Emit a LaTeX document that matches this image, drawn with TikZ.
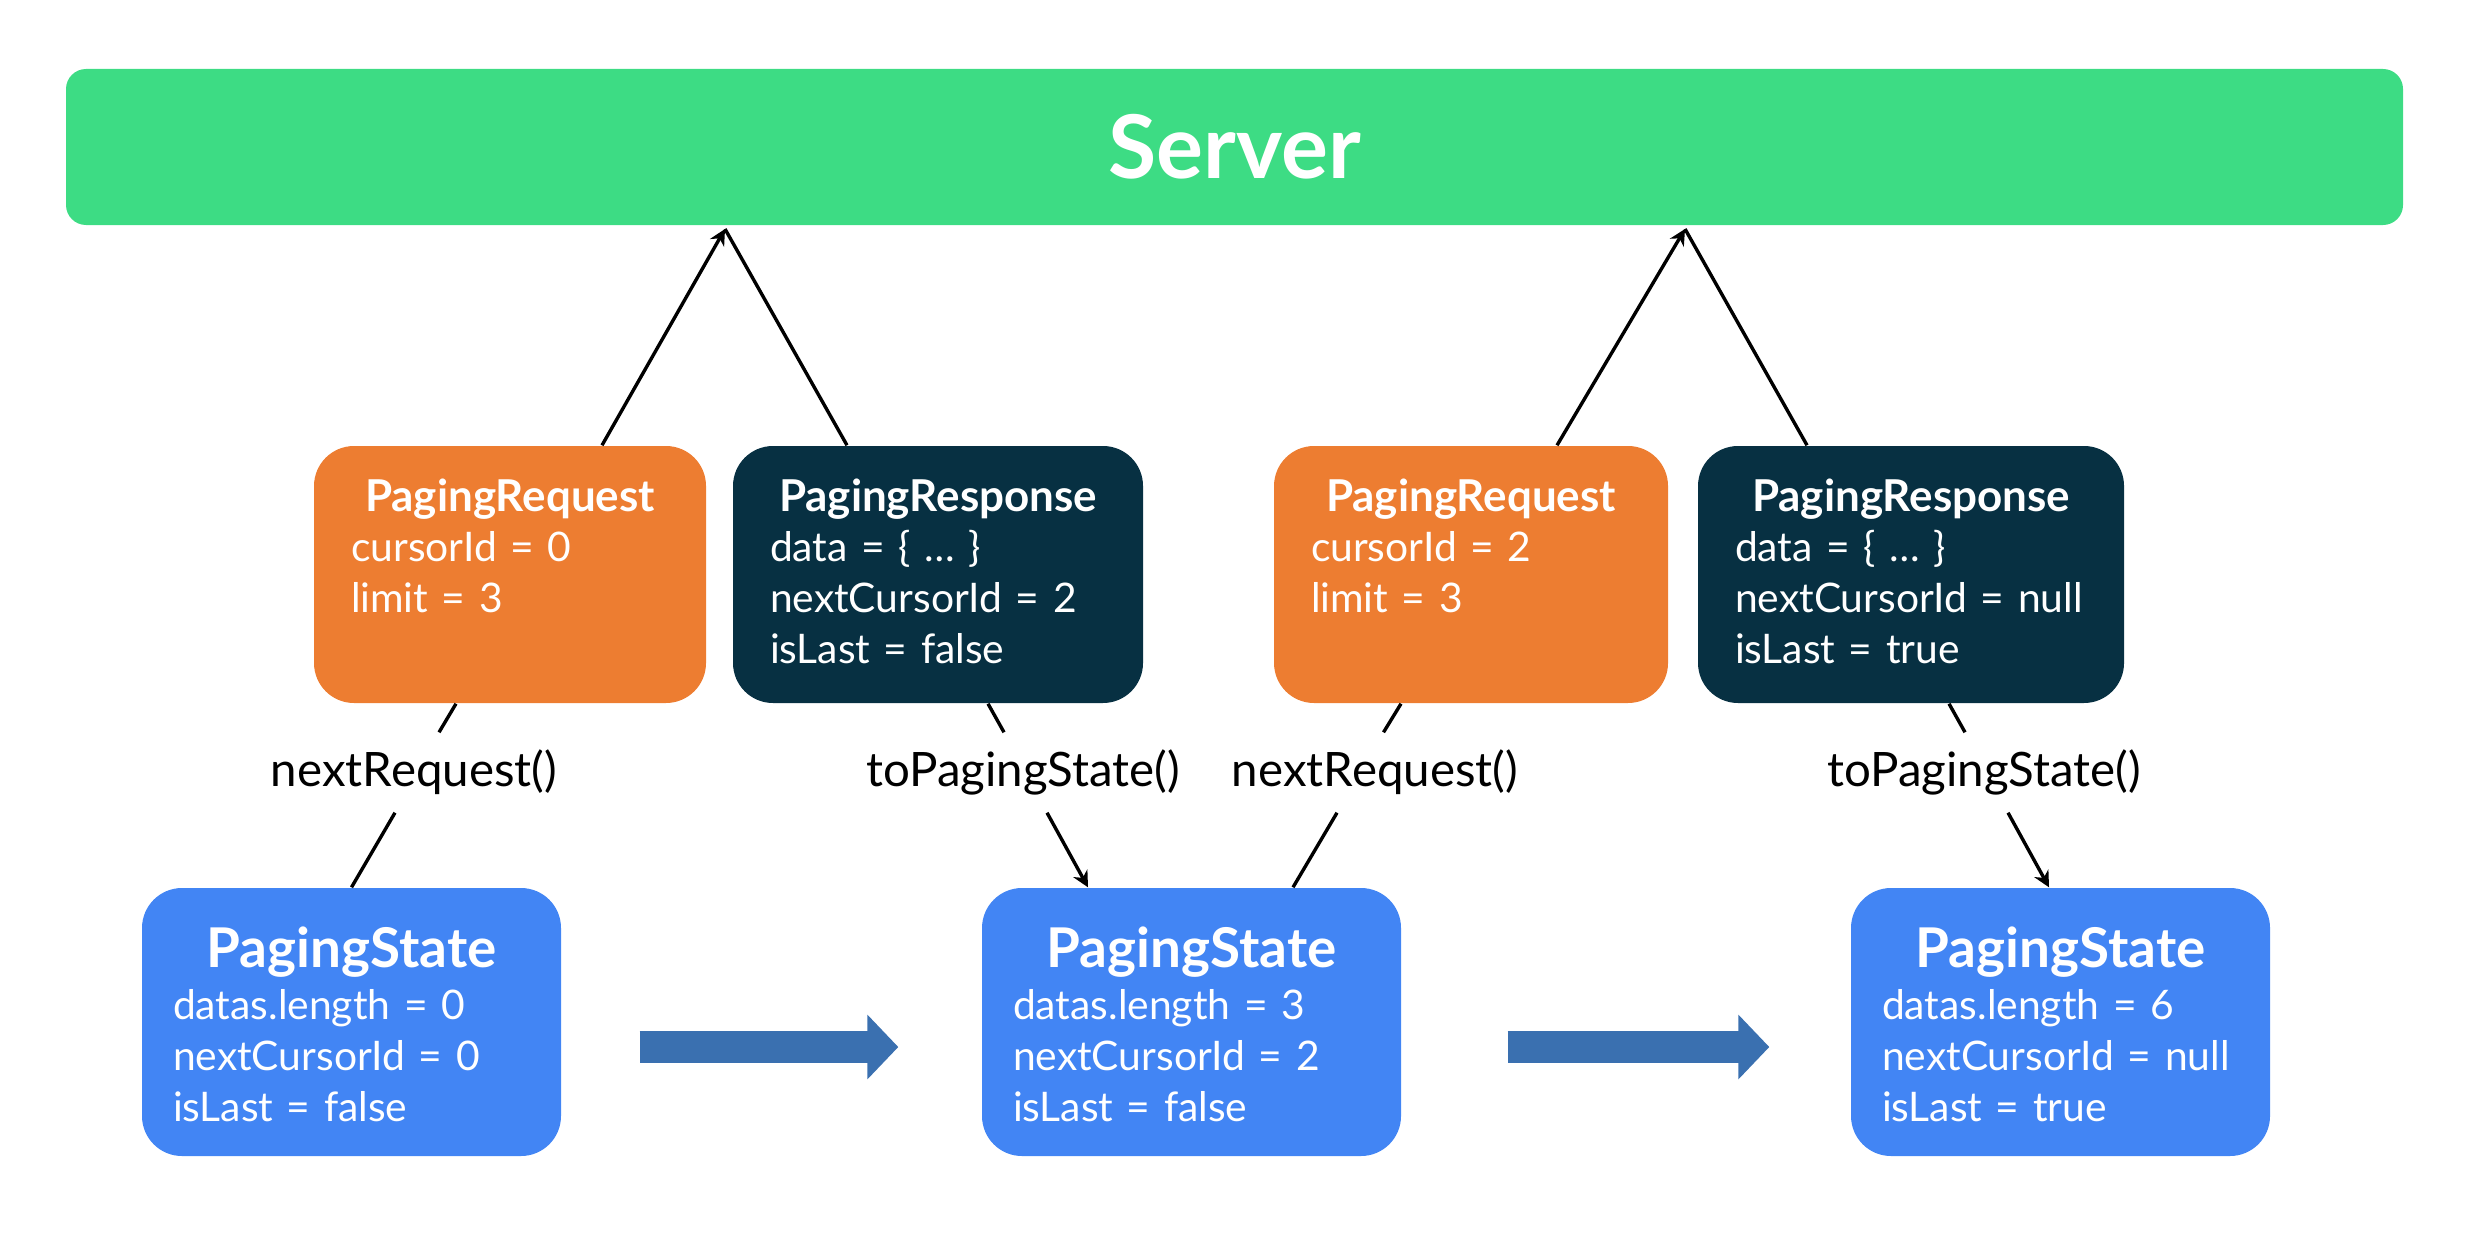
\documentclass[tikz,border=0pt]{standalone}
\usepackage{fontspec}
\setmainfont{Lato}
\usepackage{tikz}
\usetikzlibrary{arrows.meta, positioning}
\definecolor{servergreen}{HTML}{3DDC84}
\definecolor{reqorange}{HTML}{ED7D31}
\definecolor{respnavy}{HTML}{073042}
\definecolor{stateblue}{HTML}{4285F4}
\definecolor{flowblue}{HTML}{3A70B0}
\newcommand{\cardhead}{\fontsize{12.5pt}{14.5pt}\selectfont\bfseries}
\newcommand{\statehead}{\fontsize{15.6pt}{18pt}\selectfont\bfseries}

\begin{document}
\begin{tikzpicture}[
    card/.style={rounded corners=0.4cm, text=white, align=left, inner xsep=0.37cm, inner ysep=0.2cm,
        text height=0.45cm, text depth=1.72cm, font=\fontsize{11.6pt}{14.5pt}\selectfont},
    req/.style={card, fill=reqorange},
    resp/.style={card, fill=respnavy},
    pstate/.style={card, fill=stateblue, inner xsep=0.31cm, text width=3.57cm, text height=0.59cm, text depth=1.69cm},
    call/.style={minimum height=0.79cm, inner ysep=0pt, inner xsep=2pt, font=\fontsize{13.5pt}{16pt}\selectfont},
    link/.style={line width=0.034cm},
    toarrow/.style={-{Stealth[length=0.16cm, width=0.16cm]}},
    flow/.style={draw=flowblue, line width=0.32cm, -{Triangle[length=0.31cm, width=0.63cm]}}
]
    \useasboundingbox (0,0) rectangle (24.72,-12.53);

    \node[fill=servergreen, rounded corners=0.2cm, minimum width=23.37cm, minimum height=1.56cm, text=white,
        font=\fontsize{25pt}{30pt}\selectfont\bfseries] (srv) at (12.345,-1.47) {Server};

    % requests and responses
    \node[req, text width=3.18cm] (rq1) at (5.10,-5.745) {\makebox[\linewidth]{\cardhead PagingRequest}\\ cursorId = 0\\ limit = 3};
    \node[resp, text width=3.36cm] (rs1) at (9.38,-5.745) {\makebox[\linewidth]{\cardhead PagingResponse}\\ data = \{ … \}\\ nextCursorId~=~2\\ isLast = false};
    \node[req, text width=3.20cm] (rq2) at (14.71,-5.745) {\makebox[\linewidth]{\cardhead PagingRequest}\\ cursorId = 2\\ limit = 3};
    \node[resp, text width=3.52cm] (rs2) at (19.11,-5.745) {\makebox[\linewidth]{\cardhead PagingResponse}\\ data = \{ … \}\\ nextCursorId~=~null\\ isLast = true};

    % states
    \node[pstate] (st1) at (3.515,-10.22) {\makebox[\linewidth]{\statehead PagingState}\\[0.02cm] datas.length = 0\\ nextCursorId~=~0\\ isLast = false};
    \node[pstate] (st2) at (11.915,-10.22) {\makebox[\linewidth]{\statehead PagingState}\\[0.02cm] datas.length = 3\\ nextCursorId~=~2\\ isLast = false};
    \node[pstate] (st3) at (20.605,-10.22) {\makebox[\linewidth]{\statehead PagingState}\\[0.02cm] datas.length = 6\\ nextCursorId~=~null\\ isLast = true};

    % method labels
    \node[call] (nr1) at (4.14,-7.725) {nextRequest()};
    \node[call] (tp1) at (10.23,-7.725) {toPagingState()};
    \node[call] (nr2) at (13.75,-7.725) {nextRequest()};
    \node[call] (tp2) at (19.84,-7.725) {toPagingState()};

    \coordinate (ap1) at (7.25,-2.29);
    \coordinate (ap2) at (16.85,-2.29);

    \draw[link, toarrow] ([xshift=0.92cm]rq1.north) -- (ap1);
    \draw[link] (ap1) -- ([xshift=-0.91cm]rs1.north);
    \draw[link, toarrow] ([xshift=0.86cm]rq2.north) -- (ap2);
    \draw[link] (ap2) -- ([xshift=-1.04cm]rs2.north);

    \draw[link] (st1.north) -- ([xshift=-0.19cm]nr1.south);
    \draw[link] ([xshift=0.25cm]nr1.north) -- ([xshift=-0.54cm]rq1.south);
    \draw[link] ([xshift=0.50cm]rs1.south) -- ([xshift=-0.19cm]tp1.north);
    \draw[link, toarrow] ([xshift=0.24cm]tp1.south) -- ([xshift=-1.035cm]st2.north);
    \draw[link] ([xshift=1.015cm]st2.north) -- ([xshift=-0.38cm]nr2.south);
    \draw[link] ([xshift=0.085cm]nr2.north) -- ([xshift=-0.70cm]rq2.south);
    \draw[link] ([xshift=0.38cm]rs2.south) -- ([xshift=-0.19cm]tp2.north);
    \draw[link, toarrow] ([xshift=0.24cm]tp2.south) -- ([xshift=-0.115cm]st3.north);

    % state transitions
    \draw[flow] ([shift={(0.78,-0.25)}]st1.east) -- ([shift={(-0.83,-0.25)}]st2.west);
    \draw[flow] ([shift={(1.06,-0.25)}]st2.east) -- ([shift={(-0.81,-0.25)}]st3.west);
\end{tikzpicture}
\end{document}
